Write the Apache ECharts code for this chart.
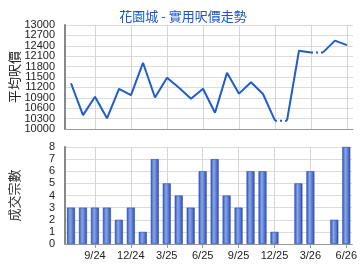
<!DOCTYPE html>
<html><head><meta charset="utf-8">
<script src="https://cdn.jsdelivr.net/npm/echarts@6/dist/echarts.min.js"></script>
<style>html,body{margin:0;padding:0;background:#fff}#c{width:360px;height:270px}</style>
</head><body><div id="c"></div>
<script>
const months = ['7/24','8/24','9/24','10/24','11/24','12/24','1/25','2/25','3/25','4/25','5/25','6/25','7/25','8/25','9/25','10/25','11/25','12/25','1/26','2/26','3/26','4/26','5/26','6/26'];
const avgPrice = [11320,10400,10930,10310,11160,10980,11910,10910,11480,11190,10870,11160,10470,11620,11020,11350,11010,10240,10240,12260,12210,12210,12550,12420];
const deals = [3,3,3,3,2,3,1,7,5,4,3,6,7,4,3,6,6,1,0,5,6,0,2,8];
const priceTickLabels = ['10000','10300','10600','10900','11200','11500','11800','12100','12400','12700','13000'];
const dealTickLabels = ['0','1','2','3','4','5','6','7','8'];
const priceTicks = {min:10000, max:13000, step:300};
const dealTicks = {min:0, max:8, step:1};
// segments: [start,end] index ranges drawn solid; dotted = carried-forward months
const solidSegs = [[0,17],[18,20],[21,23]];
const dottedSegs = [[17,18],[20,21]];

const FONT = 'Liberation Sans, Arial, sans-serif';
const CJK = '"Noto Sans CJK TC", sans-serif';
const showIdx = (i) => i % 3 === 2;
const lineColor = '#1f5ccc';

function segData(seg){ return avgPrice.map((v,i)=> (i>=seg[0] && i<=seg[1]) ? v : null); }

const series = [];
solidSegs.forEach(s=>series.push({type:'line', xAxisIndex:0, yAxisIndex:0, data:segData(s), symbol:'none', connectNulls:false, lineStyle:{color:lineColor, width:2}, z:3}));
dottedSegs.forEach(s=>series.push({type:'line', xAxisIndex:0, yAxisIndex:0, data:segData(s), symbol:'none', lineStyle:{color:lineColor, width:2, type:[2,3]}, z:3}));
series.push({type:'bar', xAxisIndex:1, yAxisIndex:1, data:deals.map(v=> v===0 ? '-' : v), barWidth:8,
  itemStyle:{color:new echarts.graphic.LinearGradient(0,0,1,0,[{offset:0,color:'#2f55bd'},{offset:0.4,color:'#8aa6e8'},{offset:1,color:'#2a4fb8'}]), borderColor:'#2346a8', borderWidth:0.6}});

const xCommon = (showLabels)=>({type:'category', data:months, boundaryGap:true,
  axisLine:{show:true, lineStyle:{color:'#999', width:1}},
  axisTick:{show:showLabels, interval:(i)=>showIdx(i), alignWithLabel:true, length:4, lineStyle:{color:'#999'}},
  axisLabel:{show:showLabels, interval:(i)=>showIdx(i), fontSize:11, color:'#222', fontFamily:FONT, margin:6},
  splitLine:{show:true, interval:(i)=>showIdx(i), alignWithLabel:true, lineStyle:{color:'#d6d6d6', width:1}}
});
const labelAxis = (grid, labels)=>({type:'category', gridIndex:grid, data:labels, boundaryGap:false, position:'left',
  axisLine:{show:false}, axisTick:{show:false}, splitLine:{show:false},
  axisLabel:{interval:0, fontSize:11, color:'#222', fontFamily:FONT, margin:10, hideOverlap:false}});

const chart = echarts.init(document.getElementById('c'), null, {renderer:'canvas'});
chart.setOption({
  animation:false,
  backgroundColor:'#fff',
  title:{text:'花園城 - 實用呎價走勢', left:178, textAlign:'center', top:5, textStyle:{color:'#1a57c9', fontSize:13, fontWeight:'normal', fontFamily:CJK}},
  grid:[{left:65, right:7, top:25, height:104}, {left:65, right:7, top:147, height:97}],
  xAxis:[Object.assign(xCommon(false),{gridIndex:0}), Object.assign(xCommon(true),{gridIndex:1})],
  yAxis:[
    {type:'value', gridIndex:0, min:priceTicks.min, max:priceTicks.max, interval:priceTicks.step,
     name:'平均呎價', nameLocation:'middle', nameGap:44, nameRotate:90, nameTextStyle:{fontSize:13, color:'#222', fontFamily:CJK},
     axisLine:{show:true, lineStyle:{color:'#888', width:2}}, axisTick:{show:false},
     axisLabel:{show:false},
     splitLine:{lineStyle:{color:'#dcdcdc', width:1}}},
    {type:'value', gridIndex:1, min:dealTicks.min, max:dealTicks.max, interval:dealTicks.step,
     name:'成交宗數', nameLocation:'middle', nameGap:44, nameRotate:90, nameTextStyle:{fontSize:13, color:'#333', fontFamily:CJK},
     axisLine:{show:true, lineStyle:{color:'#888', width:2}}, axisTick:{show:false},
     axisLabel:{show:false},
     splitLine:{lineStyle:{color:'#dcdcdc', width:1}}},
    labelAxis(0, priceTickLabels),
    labelAxis(1, dealTickLabels)
  ],
  series:series
});
</script></body></html>
